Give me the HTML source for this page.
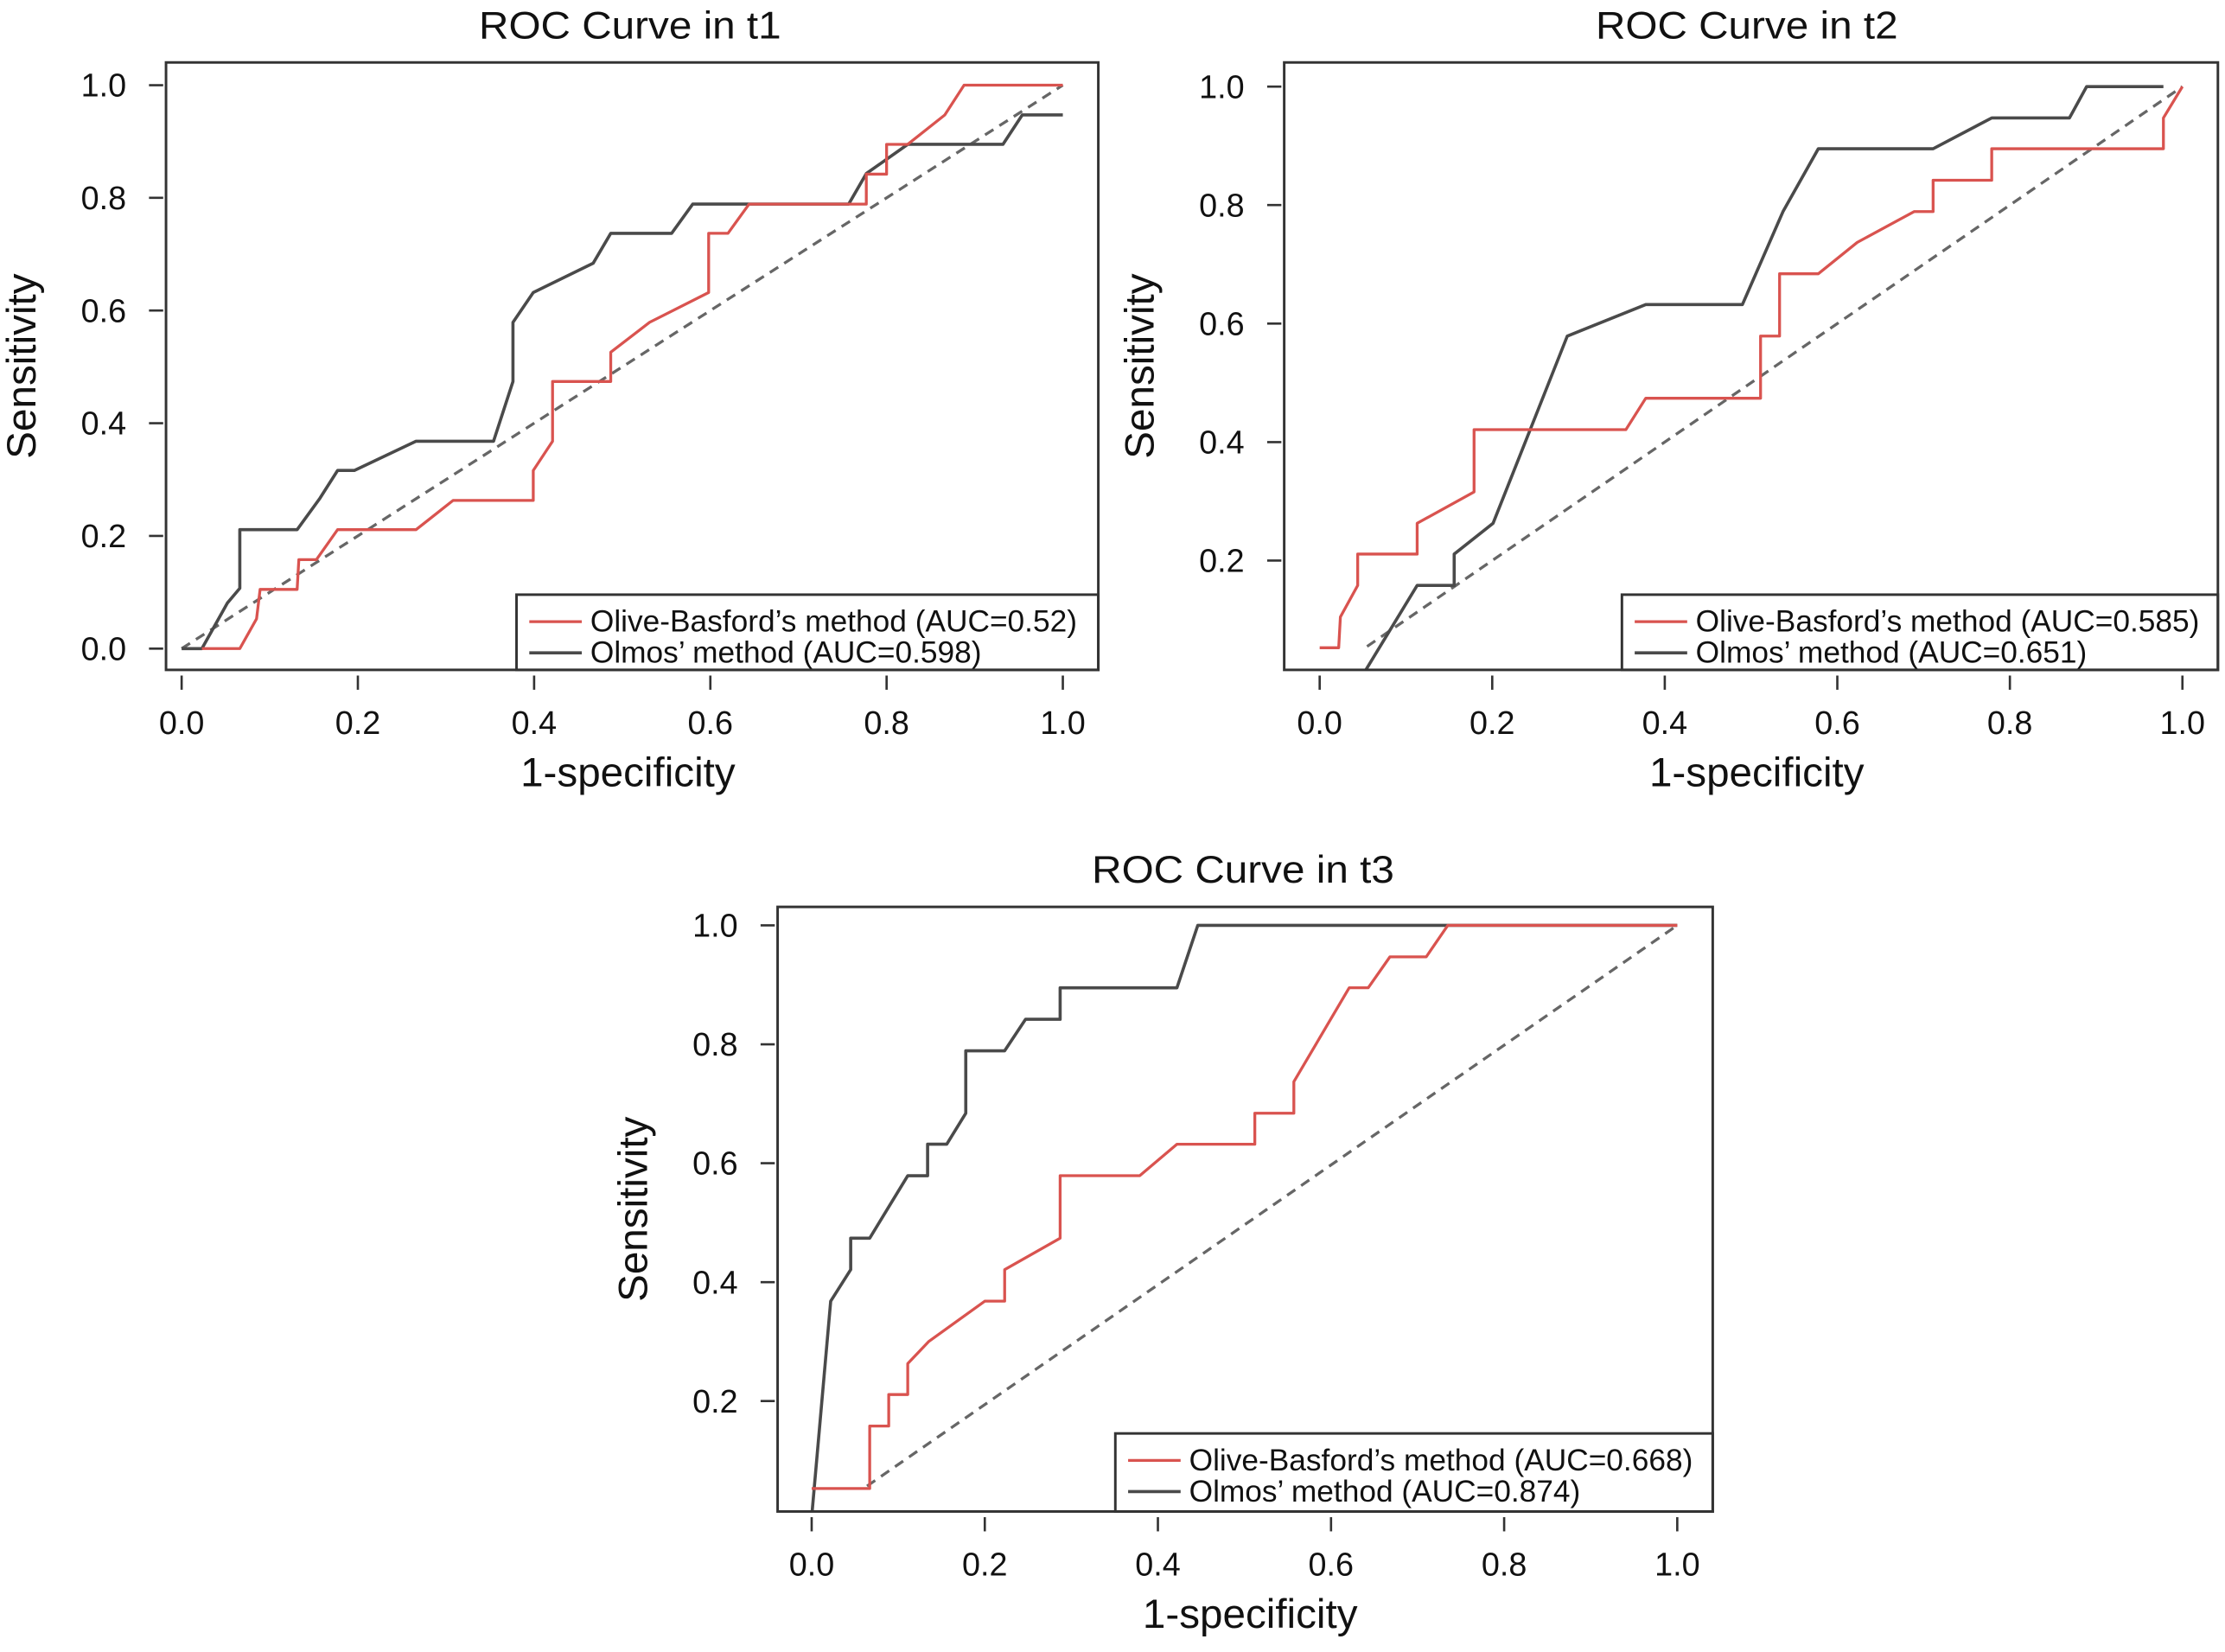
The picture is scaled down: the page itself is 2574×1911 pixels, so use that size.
<!DOCTYPE html>
<html><head><meta charset="utf-8"><style>
html,body{margin:0;padding:0;background:#fff;}
svg{display:block;}
text{font-family:"Liberation Sans",sans-serif;fill:#111;}
</style></head><body>
<svg id="fig" xmlns="http://www.w3.org/2000/svg" width="2574" height="1911" viewBox="0 0 1568 1164" preserveAspectRatio="none"></svg>
<script>
// ---- data ----
const t1Red = [[0.023,0],[0.066,0],[0.085,0.053],[0.089,0.105],[0.131,0.105],[0.133,0.158],[0.153,0.158],[0.177,0.211],[0.266,0.211],[0.308,0.263],[0.399,0.263],[0.399,0.316],[0.421,0.368],[0.421,0.474],[0.487,0.474],[0.487,0.526],[0.531,0.579],[0.598,0.632],[0.598,0.737],[0.62,0.737],[0.644,0.789],[0.777,0.789],[0.777,0.842],[0.8,0.842],[0.8,0.895],[0.824,0.895],[0.866,0.947],[0.888,1],[1,1]];
const t1Black = [[0,0],[0.023,0],[0.052,0.081],[0.066,0.107],[0.066,0.211],[0.131,0.211],[0.157,0.267],[0.177,0.316],[0.196,0.316],[0.266,0.368],[0.354,0.368],[0.376,0.474],[0.376,0.579],[0.399,0.632],[0.467,0.684],[0.487,0.737],[0.556,0.737],[0.58,0.789],[0.757,0.789],[0.777,0.843],[0.824,0.895],[0.932,0.895],[0.954,0.947],[1,0.947]];
const t1Diag = [[0,0],[1,1]];
const t2Red = [[0,0.053],[0.022,0.053],[0.024,0.105],[0.044,0.158],[0.044,0.211],[0.113,0.211],[0.113,0.263],[0.179,0.316],[0.179,0.421],[0.355,0.421],[0.378,0.474],[0.511,0.474],[0.511,0.579],[0.533,0.579],[0.533,0.684],[0.578,0.684],[0.623,0.737],[0.689,0.789],[0.711,0.789],[0.711,0.842],[0.779,0.842],[0.779,0.895],[0.978,0.895],[0.978,0.947],[1,1]];
const t2Black = [[0.047,0],[0.113,0.158],[0.156,0.158],[0.156,0.211],[0.201,0.263],[0.287,0.579],[0.378,0.632],[0.49,0.632],[0.537,0.789],[0.578,0.895],[0.711,0.895],[0.779,0.947],[0.869,0.947],[0.889,1],[0.978,1]];
const t2Diag = [[0.055,0.055],[1,1]];
const t3Red = [[0,0.053],[0.067,0.053],[0.067,0.158],[0.089,0.158],[0.089,0.211],[0.111,0.211],[0.111,0.263],[0.135,0.3],[0.2,0.368],[0.223,0.368],[0.223,0.421],[0.287,0.474],[0.287,0.579],[0.379,0.579],[0.422,0.632],[0.512,0.632],[0.512,0.684],[0.557,0.684],[0.557,0.737],[0.621,0.895],[0.643,0.895],[0.668,0.947],[0.71,0.947],[0.735,1],[1,1]];
const t3Black = [[0,0.005],[0.022,0.368],[0.045,0.421],[0.045,0.474],[0.067,0.474],[0.111,0.579],[0.134,0.579],[0.134,0.632],[0.156,0.632],[0.178,0.684],[0.178,0.789],[0.223,0.789],[0.247,0.842],[0.287,0.842],[0.287,0.895],[0.422,0.895],[0.446,1],[1,1]];
const t3Diag = [[0.064,0.057],[1,1]];
const xTicks = [0,0.2,0.4,0.6,0.8,1.0];
const yTicksT1 = [0,0.2,0.4,0.6,0.8,1.0];
const yTicksT23 = [0.2,0.4,0.6,0.8,1.0];
const titles = ["ROC Curve in t1","ROC Curve in t2","ROC Curve in t3"];
const aucRed = ["0.52","0.585","0.668"];
const aucBlack = ["0.598","0.651","0.874"];

// ---- layout ----
const panels = [
 {id:'t1',box:[117,44,774,472],x0:128,x1:749,y0:457,y1:60,yt:yTicksT1,red:t1Red,black:t1Black,diag:t1Diag,leg:[364,419],tx:444,ty:18},
 {id:'t2',box:[905,44,1563,472],x0:930,x1:1538,y0:478.5,y1:61,yt:yTicksT23,red:t2Red,black:t2Black,diag:t2Diag,leg:[1143,419],tx:1231,ty:18},
 {id:'t3',box:[548,639,1207,1065],x0:572,x1:1182,y0:1071,y1:652,yt:yTicksT23,red:t3Red,black:t3Black,diag:t3Diag,leg:[786,1010],tx:876,ty:613}
];
const NS='http://www.w3.org/2000/svg';
const svg=document.getElementById('fig');
function mk(tag,attrs,parent){const e=document.createElementNS(NS,tag);for(const k in attrs)e.setAttribute(k,attrs[k]);parent.appendChild(e);return e;}
const defs=mk('defs',{},svg);
panels.forEach((p,i)=>{
  const g=mk('g',{},svg);
  
  
  const sx=v=>p.x0+(p.x1-p.x0)*v, sy=v=>p.y0+(p.y1-p.y0)*v;
  const [L,T,R,B]=p.box;
  const cp=mk('clipPath',{id:'clip'+i},defs);
  mk('rect',{x:L,y:T,width:R-L,height:B-T},cp);
  const title=mk('text',{x:p.tx,y:p.ty+9,'text-anchor':'middle','font-size':27,textLength:213,lengthAdjust:'spacingAndGlyphs'},g);
  title.textContent=titles[i];
  
  
  xTicks.forEach(v=>{
    const tk=mk('line',{x1:sx(v),x2:sx(v),y1:B+4,y2:B+14,stroke:'#333','stroke-width':1.6},g);
    
    
    const lb=mk('text',{x:sx(v),y:B+45,'text-anchor':'middle','font-size':23},g);
    lb.textContent=v.toFixed(1);
    
    
  });
  p.yt.forEach(v=>{
    const tk=mk('line',{x1:L-12,x2:L-2,y1:sy(v),y2:sy(v),stroke:'#333','stroke-width':1.6},g);
    
    
    const lb=mk('text',{x:L-28,y:sy(v)+8,'text-anchor':'end','font-size':23},g);
    lb.textContent=v.toFixed(1);
    
    
  });
  const xl=mk('text',{x:(sx(0)+sx(1))/2+4,y:B+82,'text-anchor':'middle','font-size':29},g);
  xl.textContent='1-specificity';
  
  
  const yc=(T+B)/2, yx=L-92;
  const yl=mk('text',{x:yx,y:yc,'text-anchor':'middle','font-size':29,transform:`rotate(-90 ${yx} ${yc})`},g);
  yl.textContent='Sensitivity';
  
  
  const pts=a=>a.map(d=>sx(d[0]).toFixed(1)+','+sy(d[1]).toFixed(1)).join(' ');
  const dg=mk('polyline',{points:pts(p.diag),fill:'none',stroke:'#666','stroke-width':2,'stroke-dasharray':'7,5','clip-path':`url(#clip${i})`},g);
  
  
  const bl=mk('polyline',{points:pts(p.black),fill:'none',stroke:'#4a4a4a','stroke-width':2.2,'stroke-linejoin':'round','clip-path':`url(#clip${i})`},g);
  
  
  const rd=mk('polyline',{points:pts(p.red),fill:'none',stroke:'#d9534f','stroke-width':2,'stroke-linejoin':'round','clip-path':`url(#clip${i})`},g);
  
  
  const lg=mk('g',{},g);
  
  
  const [lx,ly]=p.leg;
  mk('rect',{x:lx,y:ly,width:R-lx,height:B-ly,fill:'#fff',stroke:'#333','stroke-width':1.8},lg);
  mk('line',{x1:lx+9,x2:lx+46,y1:ly+19,y2:ly+19,stroke:'#d9534f','stroke-width':2},lg);
  mk('line',{x1:lx+9,x2:lx+46,y1:ly+41,y2:ly+41,stroke:'#4a4a4a','stroke-width':2.2},lg);
  const e1=mk('text',{x:lx+52,y:ly+26,'font-size':21.5},lg);
  e1.textContent="Olive-Basford’s method (AUC="+aucRed[i]+")";
  
  
  const e2=mk('text',{x:lx+52,y:ly+48,'font-size':21.5},lg);
  e2.textContent="Olmos’ method (AUC="+aucBlack[i]+")";
  
  
  const bx=mk('rect',{x:L,y:T,width:R-L,height:B-T,fill:'none',stroke:'#333','stroke-width':1.8},g);
  
  
});
</script>
</body></html>
